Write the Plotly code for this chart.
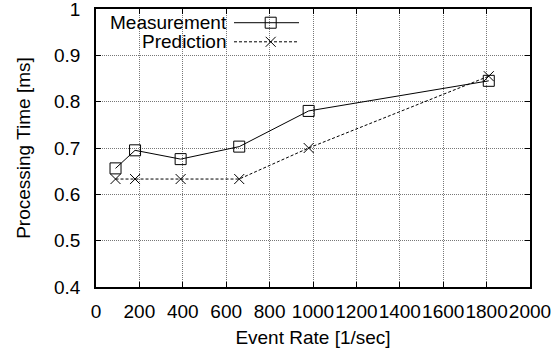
import plotly.graph_objects as go

event_rate = [90, 180, 390, 660, 980, 1810]
measurement = [0.656, 0.695, 0.676, 0.703, 0.780, 0.845]
prediction = [0.633, 0.633, 0.633, 0.633, 0.700, 0.855]
x_ticks = [0, 200, 400, 600, 800, 1000, 1200, 1400, 1600, 1800, 2000]
y_ticks = [0.4, 0.5, 0.6, 0.7, 0.8, 0.9, 1.0]
y_tick_labels = ["0.4", "0.5", "0.6", "0.7", "0.8", "0.9", "1"]

FONT = "Liberation Sans, Arial, Helvetica, sans-serif"
FS = 19

fig = go.Figure()
fig.add_trace(go.Scatter(
    x=event_rate, y=measurement, name="Measurement", mode="lines+markers",
    line=dict(color="black", width=1),
    marker=dict(symbol="square-open", size=11, color="black", line=dict(width=1)),
    showlegend=False))
fig.add_trace(go.Scatter(
    x=event_rate, y=prediction, name="Prediction", mode="lines+markers",
    line=dict(color="black", width=1, dash="3px,2px"),
    marker=dict(symbol="x-thin-open", size=10, color="black", line=dict(width=1, color="black")),
    showlegend=False))

axis_common = dict(
    showline=True, linecolor="black", linewidth=1.5, mirror="allticks",
    ticks="inside", ticklen=5, tickcolor="black", automargin=False,
    ticklabeloverflow="allow", tickangle=0,
    showgrid=True, gridcolor="#777", griddash="1px,1px", gridwidth=1,
    zeroline=False, tickfont=dict(family=FONT, size=FS, color="black"),
)
fig.update_xaxes(range=[0, 2000], tickvals=x_ticks, ticktext=[str(v) for v in x_ticks],
                 ticklabelstandoff=6,
                 title=dict(text="Event Rate [1/sec]", font=dict(family=FONT, size=FS, color="black"), standoff=10),
                 **axis_common)
fig.update_yaxes(range=[0.4, 1.0], tickvals=y_ticks, ticktext=y_tick_labels,
                 ticklabelstandoff=10,
                 title=dict(text="Processing Time [ms]", font=dict(family=FONT, size=FS, color="black"), standoff=18),
                 **axis_common)

# Legend (text right-aligned, sample to the right), in paper coordinates
names = ["Measurement", "Prediction"]
ly = [0.9507, 0.882]
x_text_end = (229 - 96) / 434
x_line0 = (234 - 96) / 434
x_line1 = (299 - 96) / 434
x_mark = (270.7 - 96) / 434
for i, (nm, yy) in enumerate(zip(names, ly)):
    fig.add_annotation(x=x_text_end, y=yy, xref="paper", yref="paper", text=nm,
                       showarrow=False, xanchor="right", yanchor="middle",
                       font=dict(family=FONT, size=FS, color="black"))
    fig.add_shape(type="line", xref="paper", yref="paper", x0=x_line0, x1=x_line1, y0=yy, y1=yy,
                  line=dict(color="black", width=1, dash="solid" if i == 0 else "3px,2px"))
fig.add_trace(go.Scatter(x=[x_mark], y=[ly[0]], xaxis="x2", yaxis="y2", mode="markers",
                         marker=dict(symbol="square-open", size=11, color="black"),
                         showlegend=False, hoverinfo="skip"))
fig.add_trace(go.Scatter(x=[x_mark], y=[ly[1]], xaxis="x2", yaxis="y2", mode="markers",
                         marker=dict(symbol="x-thin-open", size=10, color="black", line=dict(width=1, color="black")),
                         showlegend=False, hoverinfo="skip"))
fig.update_layout(
    xaxis2=dict(overlaying="x", range=[0, 1], visible=False),
    yaxis2=dict(overlaying="y", range=[0, 1], visible=False),
    width=555, height=351,
    margin=dict(l=96, r=25, t=9, b=64),
    paper_bgcolor="white", plot_bgcolor="white",
    font=dict(family=FONT, size=FS, color="black"),
)
fig.write_html("out.html", config={"displayModeBar": False},
               post_script="document.body.style.margin='0';")
